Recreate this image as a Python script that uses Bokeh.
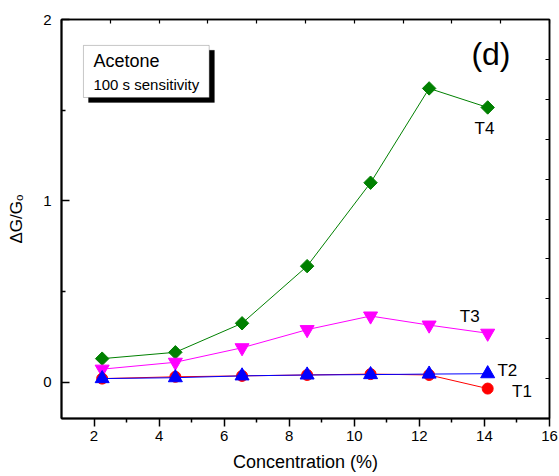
import math
from bokeh.plotting import figure
from bokeh.models import (Range1d, LinearAxis, FixedTicker, BoxAnnotation, Label,
                          CustomJSTickFormatter)
from bokeh.embed import file_html
from bokeh.resources import INLINE

# ---- data ----
conc = [2.25, 4.5, 6.55, 8.55, 10.5, 12.3, 14.1]
t1 = [0.02, 0.03, 0.035, 0.04, 0.045, 0.04, -0.035]
t2 = [0.02, 0.025, 0.035, 0.04, 0.042, 0.045, 0.047]
t3 = [0.072, 0.11, 0.19, 0.29, 0.365, 0.315, 0.27]
t4 = [0.13, 0.165, 0.325, 0.64, 1.10, 1.62, 1.515]
x_ticks = [2, 4, 6, 8, 10, 12, 14, 16]
y_ticks = [0, 1, 2]

FONT = "Liberation Sans"

p = figure(width=559, height=476, output_backend="svg", toolbar_location=None,
           x_range=Range1d(1, 16), y_range=Range1d(-0.2, 2.0),
           min_border_left=61, min_border_right=10, min_border_top=19,
           min_border_bottom=58, background_fill_color="white",
           border_fill_color="white")
p.grid.visible = False
p.outline_line_color = "black"
p.outline_line_width = 1.5

# bottom axis
xa = p.xaxis[0]
xa.ticker = FixedTicker(ticks=x_ticks, minor_ticks=[3, 5, 7, 9, 11, 13, 15])
xa.major_tick_in = 0
xa.major_tick_out = 8
xa.minor_tick_in = 0
xa.minor_tick_out = 4
xa.axis_line_width = 2
xa.major_tick_line_width = 1.5
xa.minor_tick_line_width = 1.5
xa.major_label_text_font = FONT
xa.major_label_text_font_size = "15px"
xa.major_label_text_color = "black"
xa.major_label_standoff = 4
xa.axis_label = "Concentration (%)"
xa.axis_label_text_font = FONT
xa.axis_label_text_font_size = "18px"
xa.axis_label_text_font_style = "normal"
xa.axis_label_text_color = "black"
xa.axis_label_standoff = 8

# left axis
ya = p.yaxis[0]
ya.ticker = FixedTicker(ticks=y_ticks, minor_ticks=[0.5, 1.5])
ya.major_tick_in = 8
ya.major_tick_out = 0
ya.minor_tick_in = 4
ya.minor_tick_out = 0
ya.axis_line_width = 2
ya.major_tick_line_width = 1.5
ya.minor_tick_line_width = 1.5
ya.major_label_text_font = FONT
ya.major_label_text_font_size = "15px"
ya.major_label_text_color = "black"
ya.major_label_standoff = 10
ya.axis_label = "ΔG/Gₒ"
ya.axis_label_text_font = FONT
ya.axis_label_text_font_size = "17px"
ya.axis_label_text_font_style = "normal"
ya.axis_label_text_color = "black"
ya.axis_label_standoff = 14

# top and right axes (tick marks only)
blank = CustomJSTickFormatter(code="return ''")
top_ticks = [1 + 1.5 * k for k in range(11)]
right_ticks = [-0.2 + 0.22 * k for k in range(11)]
ta = LinearAxis(ticker=FixedTicker(ticks=top_ticks), formatter=blank,
                major_tick_in=4, major_tick_out=0, minor_tick_in=0, minor_tick_out=0,
                axis_line_width=1.5, major_tick_line_width=1.2)
ra = LinearAxis(ticker=FixedTicker(ticks=right_ticks), formatter=blank,
                major_tick_in=4, major_tick_out=0, minor_tick_in=0, minor_tick_out=0,
                axis_line_width=1.5, major_tick_line_width=1.2)
p.add_layout(ta, "above")
p.add_layout(ra, "right")

# series
p.line(conc, t4, line_color="#008000", line_width=1)
p.scatter(conc, t4, marker="square", angle=math.pi / 4, size=9.5,
          fill_color="#008000", line_color="#008000")
p.line(conc, t3, line_color="#ff00ff", line_width=1)
p.scatter(conc, t3, marker="inverted_triangle", size=14, fill_color="#ff00ff", line_color="#ff00ff")
p.line(conc, t1, line_color="#ff0000", line_width=1)
p.scatter(conc, t1, marker="circle", size=11, fill_color="#ff0000", line_color="#ff0000")
p.line(conc, t2, line_color="#0000ff", line_width=1)
p.scatter(conc, t2, marker="triangle", size=14, fill_color="#0000ff", line_color="#0000ff")

# series labels
def lab(x, y, t, size="17px", align="left"):
    p.add_layout(Label(x=x, y=y, text=t, text_font=FONT, text_font_size=size,
                       text_align=align, text_baseline="middle", text_color="black"))

lab(14.0, 1.40, "T4", align="center")
lab(13.55, 0.365, "T3", align="center")
lab(14.4, 0.066, "T2")
lab(14.85, -0.05, "T1")
lab(14.2, 1.81, "(d)", size="32px", align="center")

# info box with shadow
p.add_layout(BoxAnnotation(left=1.83, right=5.70, top=1.83, bottom=1.543,
                           fill_color="black", fill_alpha=1, line_color="black"))
p.add_layout(BoxAnnotation(left=1.675, right=5.54, top=1.857, bottom=1.570,
                           fill_color="white", fill_alpha=1, line_color="#444444",
                           line_width=1))
lab(1.98, 1.77, "Acetone", size="18px")
lab(1.98, 1.64, "100 s sensitivity", size="15px")

open("out.html", "w").write(file_html(p, INLINE))
